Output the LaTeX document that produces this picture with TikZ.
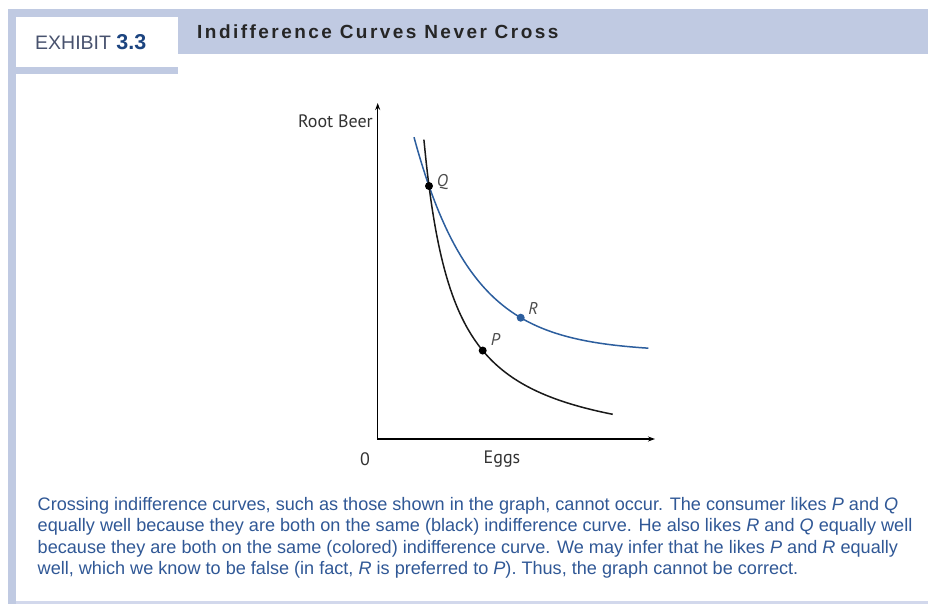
\documentclass[tikz,border=0pt]{standalone}
\usepackage{fontspec}
\setmainfont{Liberation Sans}
\newfontfamily\graphfont{PT Sans}
\usetikzlibrary{arrows.meta}
\definecolor{band}{RGB}{192,202,226}
\definecolor{bandline}{RGB}{210,216,236}
\definecolor{bodyblue}{RGB}{48,88,150}
\definecolor{curveblue}{RGB}{44,94,158}
\definecolor{exgray}{RGB}{72,82,110}
\definecolor{exblue}{RGB}{28,68,128}
\tikzset{
  bodyline/.style={anchor=base west, inner sep=0pt, text=bodyblue, font=\fontsize{18.1}{21}\selectfont},
  graphlabel/.style={inner sep=0pt, font=\graphfont\fontsize{18}{21}\selectfont, text=black!80},
  ptlabel/.style={inner sep=0pt, font=\graphfont\itshape\fontsize{17}{20}\selectfont, text=black!70},
  axisline/.style={line width=1.2pt, {Stealth[length=7pt,width=5pt]}-{Stealth[length=7pt,width=5pt]}},
  icblack/.style={line width=1.5pt, black!90},
  icblue/.style={line width=1.5pt, curveblue},
}
\begin{document}
\begin{tikzpicture}[x=1pt,y=-1pt]
\useasboundingbox (0,0) rectangle (928,604);
\fill[white] (0,0) rectangle (928,604);
% frame
\fill[band] (8,9) rectangle (928,54);
\fill[band] (8,9) rectangle (178,74);
\fill[band] (8,9) rectangle (16,604);
\fill[bandline] (16,601) rectangle (928,603.5);
\fill[white] (16,17) rectangle (178,67);
% header
\node[anchor=base west, inner sep=0pt, font=\fontsize{19.5}{24}\selectfont, text=exgray] (exhibit) at (35,50) {EXHIBIT \textcolor{exblue}{\fontsize{21.5}{24}\selectfont\bfseries 3.3}};
\node[anchor=base west, inner sep=0pt, font=\fontsize{19}{22}\selectfont\bfseries\addfontfeature{LetterSpace=13}, text=black!85] (title) at (197,38.3) {Indifference Curves Never Cross};
% axes
\coordinate (O) at (377.7,439);
\coordinate (ytop) at (377.7,103);
\coordinate (xend) at (655,439);
\draw[axisline] (ytop) -- (O) -- (xend);
\node[graphlabel, anchor=east] (rb) at (373,121) {Root Beer};
\node[graphlabel] (zero) at (365,459) {0};
\node[graphlabel] (eggs) at (502,459) {Eggs};
% curves
\draw[icblue] plot[domain=414:648.3, samples=80, smooth] (\x, {439-(87+166*exp(-0.0172*(\x-429)))});
\draw[icblack] plot[domain=423.9:612.7, samples=80, smooth] (\x, {439-(-18.8+9513/(\x-394))});
\coordinate (Q) at (429,186);
\coordinate (P) at (482.7,{439-(-18.8+9513/(482.7-394))});
\coordinate (R) at (520.7,{439-(87+166*exp(-0.0172*(520.7-429)))});
\fill[black] (Q) circle (4);
\fill[black] (P) circle (4);
\fill[curveblue] (R) circle (4);
\node[ptlabel] (Ql) at (442.5,182) {Q};
\node[ptlabel] (Rl) at (533.3,308.5) {R};
\node[ptlabel] (Pl) at (495.5,339.5) {P};
% caption
\node[bodyline] (l1) at (37.5,510) {Crossing indifference curves, such as those shown in the graph, cannot occur. The consumer likes \textit{P} and \textit{Q}};
\node[bodyline] (l2) at (37.5,531.5) {equally well because they are both on the same (black) indifference curve. He also likes \textit{R} and \textit{Q} equally well};
\node[bodyline] (l3) at (37.5,553) {because they are both on the same (colored) indifference curve. We may infer that he likes \textit{P} and \textit{R} equally};
\node[bodyline] (l4) at (37.5,574.5) {well, which we know to be false (in fact, \textit{R} is preferred to \textit{P}). Thus, the graph cannot be correct.};
\end{tikzpicture}
\end{document}
